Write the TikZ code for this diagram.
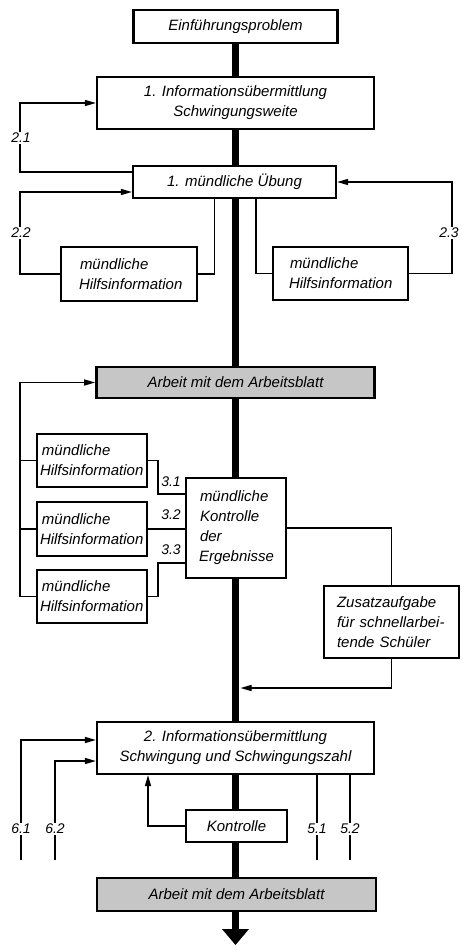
\documentclass[tikz,border=0pt]{standalone}
\usepackage{fontspec}
\setmainfont{Liberation Sans}
\usetikzlibrary{arrows.meta,backgrounds}
\hyphenpenalty=10000
\exhyphenpenalty=10000
\begin{document}
\begin{tikzpicture}[x=1pt,y=-1pt,
  txt/.style={font=\fontsize{15}{20}\selectfont\itshape},
  cbox/.style={draw, line width=2.2pt, fill=white, txt, align=center, inner sep=0pt},
  lbox/.style={draw, line width=2.2pt, fill=white, txt, align=left, inner xsep=0pt, inner ysep=0pt},
  gbox/.style={cbox, fill=gray!45, line width=2.6pt},
  conn/.style={line width=1.4pt},
  arr/.style={conn, -{Triangle[length=11pt,width=6pt]}},
  lab/.style={font=\fontsize{14}{16}\selectfont\itshape, fill=white, inner sep=1pt},
  spine/.style={line width=7pt}]
\useasboundingbox (0,0) rectangle (461,945);

% boxes
\node[cbox, minimum width=204pt, minimum height=33pt] (E) at (235.5,26.5) {Einführungsproblem};
\node[cbox, minimum width=277pt, minimum height=52pt] (I1) at (235.5,103) {1. Informationsübermittlung\\Schwingungsweite};
\node[cbox, minimum width=203pt, minimum height=32pt] (U) at (234.5,182) {1. mündliche Übung};
\node[lbox, text width=136pt, minimum height=54pt] (HL) at (129,274) {\hspace*{19pt}mündliche\\\hspace*{18pt}Hilfsinformation};
\node[lbox, text width=135pt, minimum height=53pt] (HR) at (340.5,273.5) {\hspace*{17pt}mündliche\\\hspace*{16pt}Hilfsinformation};
\node[gbox, minimum width=278pt, minimum height=31pt] (A1) at (235.5,382.5) {Arbeit mit dem Arbeitsblatt};
\node[lbox, text width=110pt, minimum height=53pt] (H1) at (92,460.5) {\hspace*{5pt}mündliche\\\hspace*{3pt}Hilfsinformation};
\node[lbox, text width=110pt, minimum height=54pt] (H2) at (92,529) {\hspace*{5pt}mündliche\\\hspace*{3pt}Hilfsinformation};
\node[lbox, text width=110pt, minimum height=53pt] (H3) at (92,596.5) {\hspace*{5pt}mündliche\\\hspace*{3pt}Hilfsinformation};
\node[lbox, text width=100pt, minimum height=100pt] (K) at (236,528) {\hspace*{14pt}mündliche\\\hspace*{14pt}Kontrolle\\\hspace*{14pt}der\\\hspace*{13pt}Ergebnisse};
\node[lbox, text width=135pt, minimum height=72pt] (Z) at (391.5,622) {\hspace*{13pt}Zusatzaufgabe\\\hspace*{13pt}für schnellarbei-\\\hspace*{13pt}tende Schüler};
\node[cbox, minimum width=277pt, minimum height=52pt] (I2) at (235.5,748) {2. Informationsübermittlung\\Schwingung und Schwingungszahl};
\node[cbox, minimum width=101pt, minimum height=32pt] (KS) at (236.5,826) {Kontrolle};
\node[gbox, minimum width=279pt, minimum height=33pt] (A2) at (236.5,894.5) {Arbeit mit dem Arbeitsblatt};

% coordinates
\coordinate (sEnd) at (235.5,929);
\coordinate (sp) at (240.5,688);
\coordinate (e61) at (21,860);
\coordinate (e62) at (55,860);
\coordinate (e51) at (317,860);
\coordinate (e52) at (350,860);

% spine
\begin{scope}[on background layer]
  \fill[white] (0,0) rectangle (461,945);
  \draw[spine] (E.south) -- (sEnd);
  \fill ([xshift=-13.5pt]sEnd) -- ([xshift=13.5pt]sEnd) -- ([yshift=-16pt]sEnd) -- cycle;
\end{scope}

% section 2
\draw[arr] ([yshift=10pt]U.west) -- ++(-112,0) |- (I1.west);
\draw[arr] (HL.west) -- ++(-40,0) |- ([yshift=-10pt]U.west);
\draw[conn] (HL.east) -| ([xshift=-20pt]U.south);
\draw[conn] ([xshift=21.5pt]U.south) |- (HR.west);
\draw[arr] (HR.east) -- ++(43,0) |- (U.east);

% section 3
\draw[arr] (H3.west) -- ++(-16,0) |- (A1.west);
\draw[conn] (H1.west) -- ++(-16,0);
\draw[conn] (H2.west) -- ++(-16,0);
\draw[conn] (H1.east) -- ++(10,0) |- ([yshift=34pt]K.west);
\draw[conn] (H2.east) -- (H2.east -| K.west);
\draw[conn] (H3.east) -- ++(10,0) |- ([yshift=-35pt]K.west);
\draw[conn] (K.east) -| (Z.north);
\draw[arr] (Z.south) |- (sp);

% section 5/6
\draw[arr] (e61) |- ([yshift=8pt]I2.west);
\draw[arr] (e62) |- ([yshift=-13pt]I2.west);
\draw[conn] (e51 |- I2.south) -- (e51);
\draw[conn] (e52 |- I2.south) -- (e52);
\draw[arr] (KS.west) -| ([xshift=-87.5pt]I2.south);

% labels
\node[lab] (l21) at (21,138) {2.1};
\node[lab] (l22) at (21,233) {2.2};
\node[lab] (l23) at (449,233) {2.3};
\node[lab] (l31) at (171,482) {3.1};
\node[lab] (l32) at (171,515) {3.2};
\node[lab] (l33) at (171,550) {3.3};
\node[lab] (l61) at (21,829) {6.1};
\node[lab] (l62) at (55,829) {6.2};
\node[lab] (l51) at (317,829) {5.1};
\node[lab] (l52) at (350,829) {5.2};
\end{tikzpicture}
\end{document}
